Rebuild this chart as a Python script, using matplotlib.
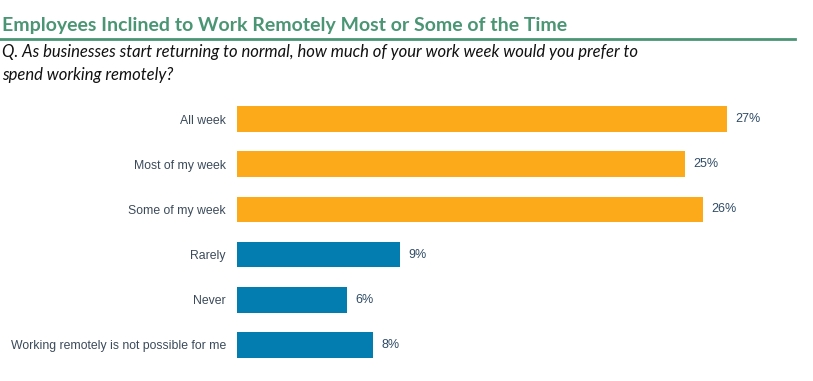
import matplotlib.pyplot as plt
from matplotlib.lines import Line2D

# 数据
categories = ["All week", "Most of my week", "Some of my week", "Rarely", "Never",
              "Working remotely is not possible for me"]
values = [27.0, 24.7, 25.7, 9.0, 6.05, 7.5]
labels = ["27%", "25%", "26%", "9%", "6%", "8%"]
colors = ["#FDAA1A"] * 3 + ["#037DB0"] * 3

fig = plt.figure(figsize=(8.13, 3.81), dpi=100)
ax = fig.add_axes([237 / 813, 1 - 367.6 / 381, 544.5 / 813, 271.2 / 381])

pos = list(range(len(categories)))
ax.barh(pos, values, height=0.57, color=colors)
ax.set_xlim(0, 30)
ax.set_ylim(5.5, -0.5)
ax.set_yticks(pos)
ax.set_yticklabels(categories, fontsize=8.8, color="#3b4a5a", family="Liberation Sans")
ax.tick_params(axis="y", length=0, pad=8)
ax.set_xticks([])
for s in ax.spines.values():
    s.set_visible(False)

# 数值标签
for p, v, lab in zip(pos, values, labels):
    ax.text(v + 0.45, p, lab, va="center", ha="left", fontsize=9,
            color="#2f4b66", family="Liberation Sans")

# 标题与副标题
fig.text(2 / 813, 1 - 31 / 381, "Employees Inclined to Work Remotely Most or Some of the Time",
         fontsize=14, color="#4A9574", fontweight="bold", family="Lato",
         va="baseline")
fig.add_artist(Line2D([0, 795 / 813], [1 - 39 / 381, 1 - 39 / 381], color="#4A9574",
                      linewidth=2, transform=fig.transFigure))
fig.text(2 / 813, 1 - 57 / 381,
         "Q. As businesses start returning to normal, how much of your work week would you prefer to",
         fontsize=12, style="italic", color="#111111", family="Lato",
         va="baseline")
fig.text(2 / 813, 1 - 80 / 381, "spend working remotely?",
         fontsize=12, style="italic", color="#111111", family="Lato",
         va="baseline")

fig.savefig("out.png", dpi=100)
